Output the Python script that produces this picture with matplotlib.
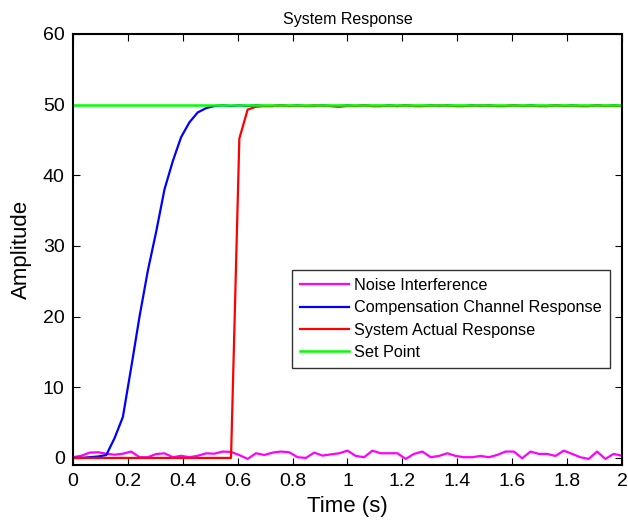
import numpy as np
import matplotlib
matplotlib.use("Agg")
import matplotlib.pyplot as plt

plt.rcParams['font.family'] = ['Liberation Sans', 'DejaVu Sans']

# sampling grid of the simulation (67 samples over 2 s)
t = np.linspace(0, 2, 67)

noise = [0.1, 0.3, 0.75, 0.8, 0.6, 0.45, 0.6, 0.9, 0.1, 0.1,
         0.55, 0.65, 0.1, 0.3, 0.1, 0.3, 0.65, 0.6, 0.9, 0.85,
         0.4, -0.14, 0.66, 0.42, 0.75, 0.9, 0.8, 0.1, 0.0, 0.75,
         0.33, 0.5, 0.66, 1.03, 0.28, 0.1, 1.03, 0.66, 0.66, 0.66,
         -0.14, 0.57, 0.9, 0.1, 0.28, 0.66, 0.28, 0.1, 0.1, 0.28,
         0.1, 0.42, 0.9, 0.9, -0.05, 0.9, 0.57, 0.57, 0.28, 1.03,
         0.57, 0.1, -0.14, 0.9, -0.14, 0.57, 0.3]

compensation = [0, 0, 0.1, 0.2, 0.4, 2.8, 5.8, 12.8, 20.0, 26.5,
                32.0, 38.0, 42.0, 45.4, 47.5, 48.9, 49.5, 49.8, 49.9, 49.8,
                49.9, 49.8, 49.9, 49.8, 49.8, 49.9, 49.8, 49.9, 49.8, 49.8,
                49.9, 49.8, 49.8, 49.9, 49.8, 49.9, 49.8, 49.8, 49.9, 49.8,
                49.9, 49.8, 49.8, 49.9, 49.8, 49.9, 49.8, 49.8, 49.9, 49.8,
                49.9, 49.8, 49.8, 49.9, 49.8, 49.9, 49.8, 49.8, 49.9, 49.8,
                49.9, 49.8, 49.8, 49.9, 49.8, 49.9, 49.8]

actual = [0, 0, 0, 0, 0, 0, 0, 0, 0, 0,
          0, 0, 0, 0, 0, 0, 0, 0, 0, 0,
          45.2, 49.3, 49.7, 49.8, 49.8, 49.9, 49.8, 49.8, 49.8, 49.9,
          49.8, 49.8, 49.7, 49.8, 49.8, 49.9, 49.8, 49.8, 49.8, 49.8,
          49.9, 49.8, 49.8, 49.8, 49.9, 49.8, 49.8, 49.8, 49.8, 49.9,
          49.8, 49.8, 49.8, 49.9, 49.8, 49.8, 49.8, 49.8, 49.9, 49.8,
          49.8, 49.8, 49.8, 49.9, 49.8, 49.8, 49.8]

set_point = 50

fig = plt.figure(figsize=(6.28, 5.26), dpi=100)
ax = fig.add_axes([0.1162, 0.116, 0.8742, 0.8194])

ax.plot(t, noise, color='#ff00ff', lw=1.6, label='Noise Interference')
ax.plot(t, compensation, color='#0000ff', lw=1.6, label='Compensation Channel Response')
ax.plot(t, actual, color='#ff0000', lw=1.6, label='System Actual Response')
ax.plot([0, 2], [set_point, set_point], color='#00ff00', lw=1.8, label='Set Point')

ax.set_xlim(0, 2)
ax.set_ylim(-1, 60)
ax.set_xticks(np.arange(0, 2.01, 0.2))
ax.set_xticklabels(['0', '0.2', '0.4', '0.6', '0.8', '1', '1.2', '1.4', '1.6', '1.8', '2'])
ax.set_yticks(np.arange(0, 61, 10))
ax.tick_params(direction='in', top=True, right=True, labelsize=14, length=5, width=0.8, pad=6)
for s in ax.spines.values():
    s.set_linewidth(1.5)

ax.set_title('System Response', fontsize=11.5, pad=7)
ax.set_xlabel('Time (s)', fontsize=16, labelpad=4)
ax.set_ylabel('Amplitude', fontsize=16, labelpad=8)

leg = ax.legend(loc='lower right', bbox_to_anchor=(0.978, 0.225), borderaxespad=0,
                fontsize=11.7, frameon=True, fancybox=False, edgecolor='black',
                handlelength=3.0, handletextpad=0.3, labelspacing=0.45,
                borderpad=0.5)
leg.get_frame().set_linewidth(1.0)

fig.savefig('out.png', dpi=100)
